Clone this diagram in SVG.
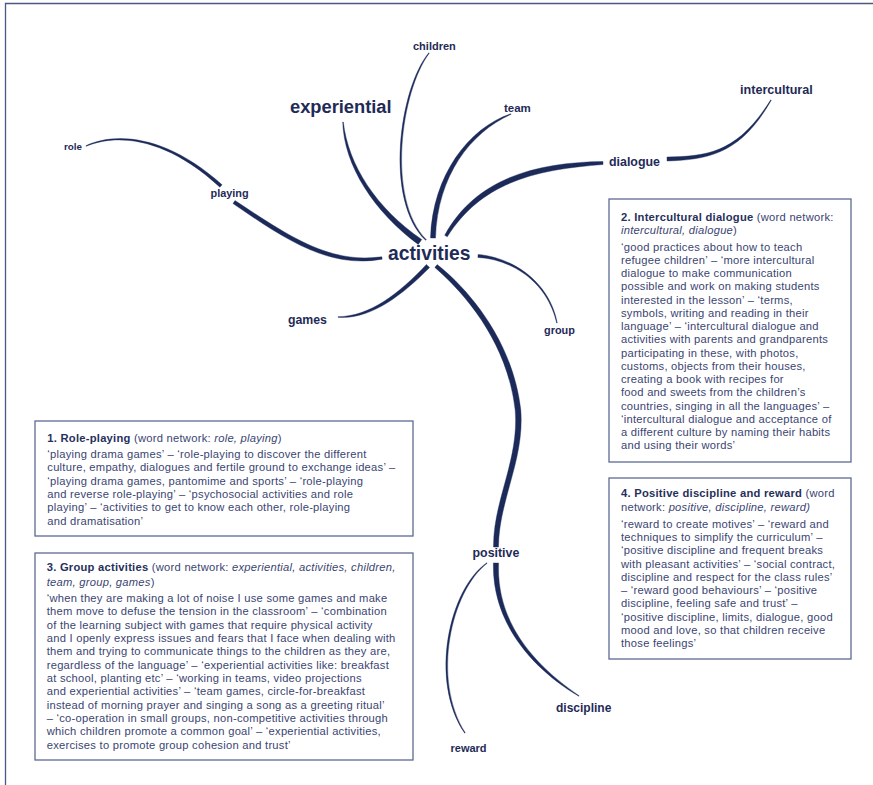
<svg xmlns="http://www.w3.org/2000/svg" width="873" height="785" viewBox="0 0 873 785">
<style>
.frame{fill:none;stroke:#4a5884;stroke-width:1.3}
.box{fill:#fff;stroke:#5d6a93;stroke-width:1.3}
.lbl{font-family:"Liberation Sans",Arial,sans-serif;font-weight:bold;fill:#1f2b57}
.bt{font-family:"Liberation Sans",Arial,sans-serif;font-size:11.2px;letter-spacing:0.25px;fill:#3a4572}
.b{font-weight:bold;fill:#25305c}
.i{font-style:italic}
.conn path{fill:#1c2a5a;stroke:#1c2a5a;stroke-width:0.4;stroke-linejoin:round}
</style>
<rect width="873" height="785" fill="#fff"/>
<path class="frame" d="M5.5,785 V3.5 H873"/>

<g id="connectors" class="conn">
<path id="c-role-playing" d="M86.12,146.27 C115.42,133.93 164.31,135.75 219.92,187.18 L222.08,184.82 C165.69,134.25 114.58,132.07 85.88,145.73 Z"/>
<path id="c-playing-activities" d="M232.99,203.49 C288.64,242.01 330.37,268.4 382.18,259.19 L381.82,256.81 C329.63,263.6 291.36,237.99 235.01,200.51 Z"/>
<path id="c-experiential-activities" d="M342.7,122.02 C343.88,165.15 373.77,211.73 418.26,244.45 L421.74,239.55 C376.23,208.27 348.12,164.85 343.3,121.98 Z"/>
<path id="c-children-activities" d="M428.76,52.81 C398.95,89.18 384.07,200.95 425.65,240.36 L426.35,239.64 C385.93,199.05 401.05,90.82 429.24,53.19 Z"/>
<path id="c-team-activities" d="M510.89,113.72 C469.1,127.7 432.53,174.92 430.5,237.92 L435.5,238.08 C437.47,175.08 470.9,132.3 511.11,114.28 Z"/>
<path id="c-dialogue-activities" d="M602.93,161.5 C539.83,162.5 476.98,176.23 444.71,235.24 L447.29,236.76 C483.02,179.77 540.17,169.5 603.07,164.5 Z"/>
<path id="c-dialogue-intercultural" d="M667.05,161 C710.04,159.62 741.39,152.83 771.26,100.15 L770.74,99.85 C738.61,151.17 709.96,156.38 666.95,157 Z"/>
<path id="c-activities-group" d="M477.91,257.5 C509.94,259.03 546.99,280.21 556.71,323.06 L557.29,322.94 C549.01,279.79 510.06,256.97 478.09,254.5 Z"/>
<path id="c-games-activities" d="M337.99,317.3 C369.95,319.72 401.24,296.2 429.58,267.53 L426.42,264.47 C398.76,293.8 370.05,316.28 338.01,316.7 Z"/>
<path id="c-activities-positive" d="M434.85,267.39 C463.21,292.16 507.21,340.27 515.21,410.27 C519.21,460.27 493.2,500 493.5,547 L498.5,547 C498.8,500 524.79,459.73 520.79,409.73 C512.79,339.73 466.79,287.84 437.15,264.61 Z"/>
<path id="c-positive-discipline" d="M493.4,562.91 C491.82,619.92 528.84,666.84 578.84,696.25 L579.16,695.75 C531.16,663.16 496.18,620.08 498.6,563.09 Z"/>
<path id="c-positive-reward" d="M486.82,562.76 C449.12,588.79 428.75,680.83 464.75,733.17 L465.25,732.83 C431.25,679.17 450.89,591.21 487.18,563.24 Z"/>
</g>

<g id="n-activities"><text class="lbl" x="388" y="260" font-size="19.3">activities</text></g>
<g id="n-experiential"><text class="lbl" x="290" y="113" font-size="18.3">experiential</text></g>
<g id="n-children"><text class="lbl" x="413" y="50" font-size="11">children</text></g>
<g id="n-team"><text class="lbl" x="504" y="112" font-size="11.5">team</text></g>
<g id="n-intercultural"><text class="lbl" x="740" y="94" font-size="12.6">intercultural</text></g>
<g id="n-dialogue"><text class="lbl" x="609" y="165.5" font-size="12.4">dialogue</text></g>
<g id="n-role"><text class="lbl" x="64" y="150" font-size="9.8">role</text></g>
<g id="n-playing"><text class="lbl" x="210.5" y="197" font-size="10.9">playing</text></g>
<g id="n-games"><text class="lbl" x="288" y="323.5" font-size="12.3">games</text></g>
<g id="n-group"><text class="lbl" x="544" y="333.5" font-size="10.9">group</text></g>
<g id="n-positive"><text class="lbl" x="472.5" y="556.5" font-size="12.4">positive</text></g>
<g id="n-discipline"><text class="lbl" x="556" y="711.5" font-size="12">discipline</text></g>
<g id="n-reward"><text class="lbl" x="450.5" y="751.5" font-size="11">reward</text></g>

<g id="box-1">
<rect class="box" x="35" y="421" width="378" height="115"/>
<text class="bt" x="47.3" y="442"><tspan class="b">1. Role-playing</tspan> (word network: <tspan class="i">role, playing</tspan>)</text>
<text class="bt" x="47.3" y="458">‘playing drama games’ – ‘role-playing to discover the different</text>
<text class="bt" x="47.3" y="471.3">culture, empathy, dialogues and fertile ground to exchange ideas’ –</text>
<text class="bt" x="47.3" y="484.6">‘playing drama games, pantomime and sports’ – ‘role-playing</text>
<text class="bt" x="47.3" y="497.9">and reverse role-playing’ – ‘psychosocial activities and role</text>
<text class="bt" x="47.3" y="511.2">playing’ – ‘activities to get to know each other, role-playing</text>
<text class="bt" x="47.3" y="524.5">and dramatisation’</text>
</g>

<g id="box-2">
<rect class="box" x="609" y="199" width="242" height="263"/>
<text class="bt" x="621" y="221"><tspan class="b">2. Intercultural dialogue</tspan> (word network:</text>
<text class="bt" x="621" y="233.5"><tspan class="i">intercultural, dialogue</tspan>)</text>
<text class="bt" x="621" y="250.5">‘good practices about how to teach</text>
<text class="bt" x="621" y="263.75">refugee children’ – ‘more intercultural</text>
<text class="bt" x="621" y="277">dialogue to make communication</text>
<text class="bt" x="621" y="290.25">possible and work on making students</text>
<text class="bt" x="621" y="303.5">interested in the lesson’ – ‘terms,</text>
<text class="bt" x="621" y="316.75">symbols, writing and reading in their</text>
<text class="bt" x="621" y="330">language’ – ‘intercultural dialogue and</text>
<text class="bt" x="621" y="343.25">activities with parents and grandparents</text>
<text class="bt" x="621" y="356.5">participating in these, with photos,</text>
<text class="bt" x="621" y="369.75">customs, objects from their houses,</text>
<text class="bt" x="621" y="383">creating a book with recipes for</text>
<text class="bt" x="621" y="396.25">food and sweets from the children’s</text>
<text class="bt" x="621" y="409.5">countries, singing in all the languages’ –</text>
<text class="bt" x="621" y="422.75">‘intercultural dialogue and acceptance of</text>
<text class="bt" x="621" y="436">a different culture by naming their habits</text>
<text class="bt" x="621" y="449.25">and using their words’</text>
</g>

<g id="box-3">
<rect class="box" x="35" y="553" width="378" height="207"/>
<text class="bt" x="46.7" y="571"><tspan class="b">3. Group activities</tspan> (word network: <tspan class="i">experiential, activities, children,</tspan></text>
<text class="bt" x="46.7" y="585.5"><tspan class="i">team, group, games</tspan>)</text>
<text class="bt" x="46.7" y="602">‘when they are making a lot of noise I use some games and make</text>
<text class="bt" x="46.7" y="615.33">them move to defuse the tension in the classroom’ – ‘combination</text>
<text class="bt" x="46.7" y="628.67">of the learning subject with games that require physical activity</text>
<text class="bt" x="46.7" y="642">and I openly express issues and fears that I face when dealing with</text>
<text class="bt" x="46.7" y="655.33">them and trying to communicate things to the children as they are,</text>
<text class="bt" x="46.7" y="668.67">regardless of the language’ – ‘experiential activities like: breakfast</text>
<text class="bt" x="46.7" y="682">at school, planting etc’ – ‘working in teams, video projections</text>
<text class="bt" x="46.7" y="695.33">and experiential activities’ – ‘team games, circle-for-breakfast</text>
<text class="bt" x="46.7" y="708.67">instead of morning prayer and singing a song as a greeting ritual’</text>
<text class="bt" x="46.7" y="722">– ‘co-operation in small groups, non-competitive activities through</text>
<text class="bt" x="46.7" y="735.33">which children promote a common goal’ – ‘experiential activities,</text>
<text class="bt" x="46.7" y="748.67">exercises to promote group cohesion and trust’</text>
</g>

<g id="box-4">
<rect class="box" x="609" y="478" width="242" height="181"/>
<text class="bt" x="621" y="497"><tspan class="b">4. Positive discipline and reward</tspan> (word</text>
<text class="bt" x="621" y="510.5">network: <tspan class="i">positive, discipline, reward)</tspan></text>
<text class="bt" x="621" y="528">‘reward to create motives’ – ‘reward and</text>
<text class="bt" x="621" y="541.22">techniques to simplify the curriculum’ –</text>
<text class="bt" x="621" y="554.44">‘positive discipline and frequent breaks</text>
<text class="bt" x="621" y="567.67">with pleasant activities’ – ‘social contract,</text>
<text class="bt" x="621" y="580.89">discipline and respect for the class rules’</text>
<text class="bt" x="621" y="594.11">– ‘reward good behaviours’ – ‘positive</text>
<text class="bt" x="621" y="607.33">discipline, feeling safe and trust’ –</text>
<text class="bt" x="621" y="620.56">‘positive discipline, limits, dialogue, good</text>
<text class="bt" x="621" y="633.78">mood and love, so that children receive</text>
<text class="bt" x="621" y="647">those feelings’</text>
</g>
</svg>
